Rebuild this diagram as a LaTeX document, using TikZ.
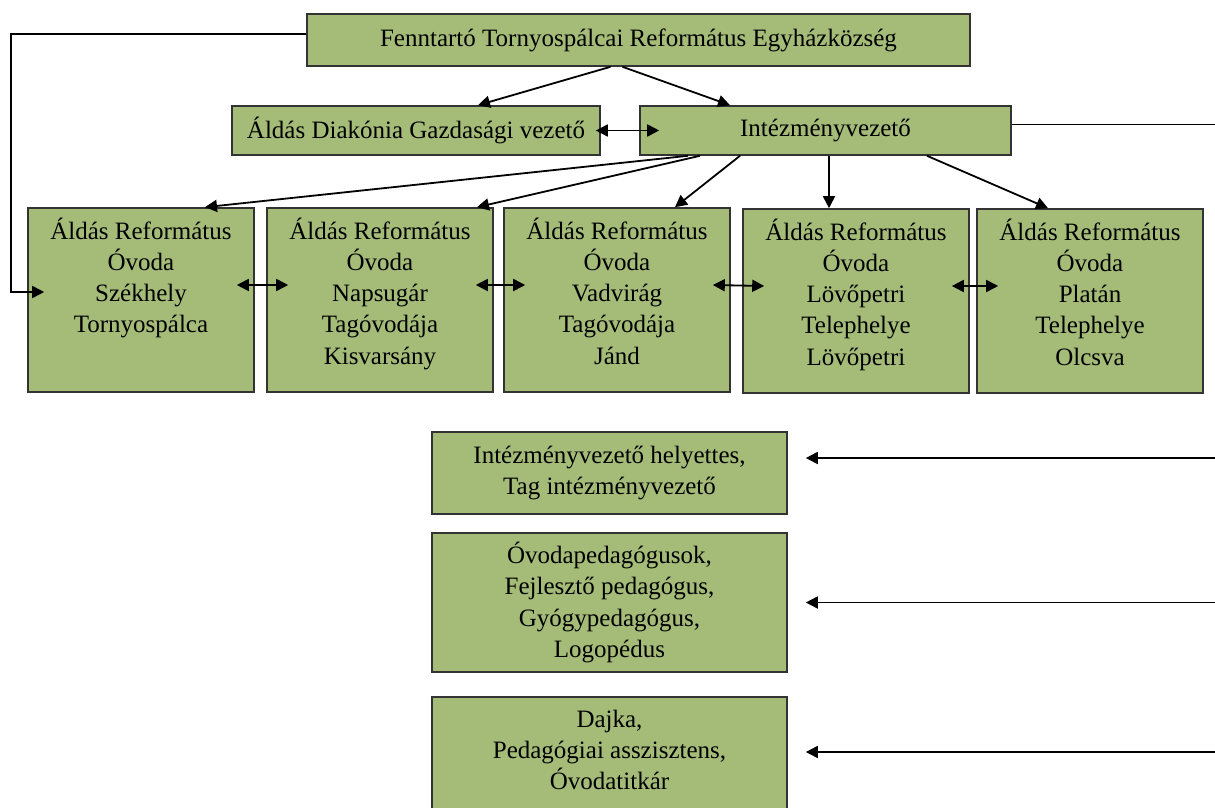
\documentclass[tikz,border=0pt]{standalone}
\usepackage{fontspec}
\setmainfont{Liberation Serif}
\usetikzlibrary{arrows.meta}
\definecolor{boxgreen}{RGB}{165,188,121}

\begin{document}
\begin{tikzpicture}[x=0.5pt,y=-0.5pt,
    >={Triangle[length=6pt,width=6pt]}, line width=0.9pt,
    doboz/.style={draw=black!80,line width=0.8pt,fill=boxgreen,align=center,
        font=\fontsize{12.5}{15.6}\selectfont,inner sep=0pt},
    egyseg/.style={doboz,minimum width=113pt,minimum height=92pt},
    felirat/.style={anchor=north,yshift=-1.5pt,align=center,
        font=\fontsize{12.5}{15.6}\selectfont}]
    \useasboundingbox (0,0) rectangle (1215,808);
    \clip (0,0) rectangle (1215,808);

    \node[doboz,minimum width=331.5pt,minimum height=26pt] (FTRE) at (638.5,40) {Fenntartó Tornyospálcai Református Egyházközség};
    \node[doboz,minimum width=184pt,minimum height=24.5pt] (ADGV) at (416,130.5) {Áldás Diakónia Gazdasági vezető};
    \node[doboz,minimum width=185.5pt,minimum height=24.5pt] (IV) at (825.5,130.5) {Intézményvezető};

    \node[egyseg,label={[felirat]north:Áldás Református\\Óvoda\\Székhely\\Tornyospálca}] (SZ) at (141,300) {};
    \node[egyseg,label={[felirat]north:Áldás Református\\Óvoda\\Napsugár\\Tagóvodája\\Kisvarsány}] (NAP) at (380,300) {};
    \node[egyseg,label={[felirat]north:Áldás Református\\Óvoda\\Vadvirág\\Tagóvodája\\Jánd}] (VAD) at (617,300) {};
    \node[egyseg,label={[felirat]north:Áldás Református\\Óvoda\\Lövőpetri\\Telephelye\\Lövőpetri}] (LOV) at (856,301) {};
    \node[egyseg,label={[felirat]north:Áldás Református\\Óvoda\\Platán\\Telephelye\\Olcsva}] (PLA) at (1090,301) {};

    \node[doboz,minimum width=177.5pt,minimum height=41pt] (IVH) at (609.5,473) {Intézményvezető helyettes,\\Tag intézményvezető};
    \node[doboz,minimum width=177.5pt,minimum height=69.5pt] (PED) at (609.5,602.5) {Óvodapedagógusok,\\Fejlesztő pedagógus,\\Gyógypedagógus,\\Logopédus};
    \node[doboz,minimum width=177.5pt,minimum height=69.5pt,label={[felirat,yshift=-1.5pt]north:Dajka,\\Pedagógiai asszisztens,\\Óvodatitkár}] (DAJ) at (609.5,766.5) {};

    % fenntarto
    \draw[->] ([xshift=-14pt]FTRE.south) -- ([xshift=31pt]ADGV.north);
    \draw[->] ([xshift=-8pt]FTRE.south) -- ([xshift=-47.75pt]IV.north);
    \draw[->] ([yshift=3pt]FTRE.west) -- ++(-295,0) |- ([xshift=8.5pt,yshift=4pt]SZ.west);
    \draw[<->] ([xshift=-2.5pt]ADGV.east) -- ([xshift=10pt]IV.west);

    % intezmenyvezeto -> ovodak
    \draw[->] ([xshift=-68.75pt]IV.south) -- ([xshift=32pt]SZ.north);
    \draw[->] ([xshift=-62.75pt]IV.south) -- ([xshift=48.5pt]NAP.north);
    \draw[->] ([xshift=-42.75pt]IV.south) -- ([xshift=29pt]VAD.north);
    \draw[->] ([xshift=1.75pt]IV.south) -- ([xshift=1.75pt]IV.south |- LOV.north);
    \draw[->] ([xshift=50.75pt]IV.south) -- ([xshift=-21pt]PLA.north);
    \foreach \a/\b in {SZ/NAP,NAP/VAD,VAD/LOV,LOV/PLA}
        \draw[<->] ([xshift=-9pt,yshift=7.5pt]\a.east) -- ([xshift=11pt,yshift=7.5pt]\b.west);

    % jobb oldal
    \draw ([yshift=3pt]IV.east) -- ++(230,0) coordinate (SIN);
    \draw[->] (SIN) |- ([xshift=9pt,yshift=7.5pt]IVH.east);
    \draw[->] (SIN) |- ([xshift=9pt]PED.east);
    \draw[->] (SIN) |- ([xshift=9pt,yshift=7.25pt]DAJ.east);
\end{tikzpicture}
\end{document}
